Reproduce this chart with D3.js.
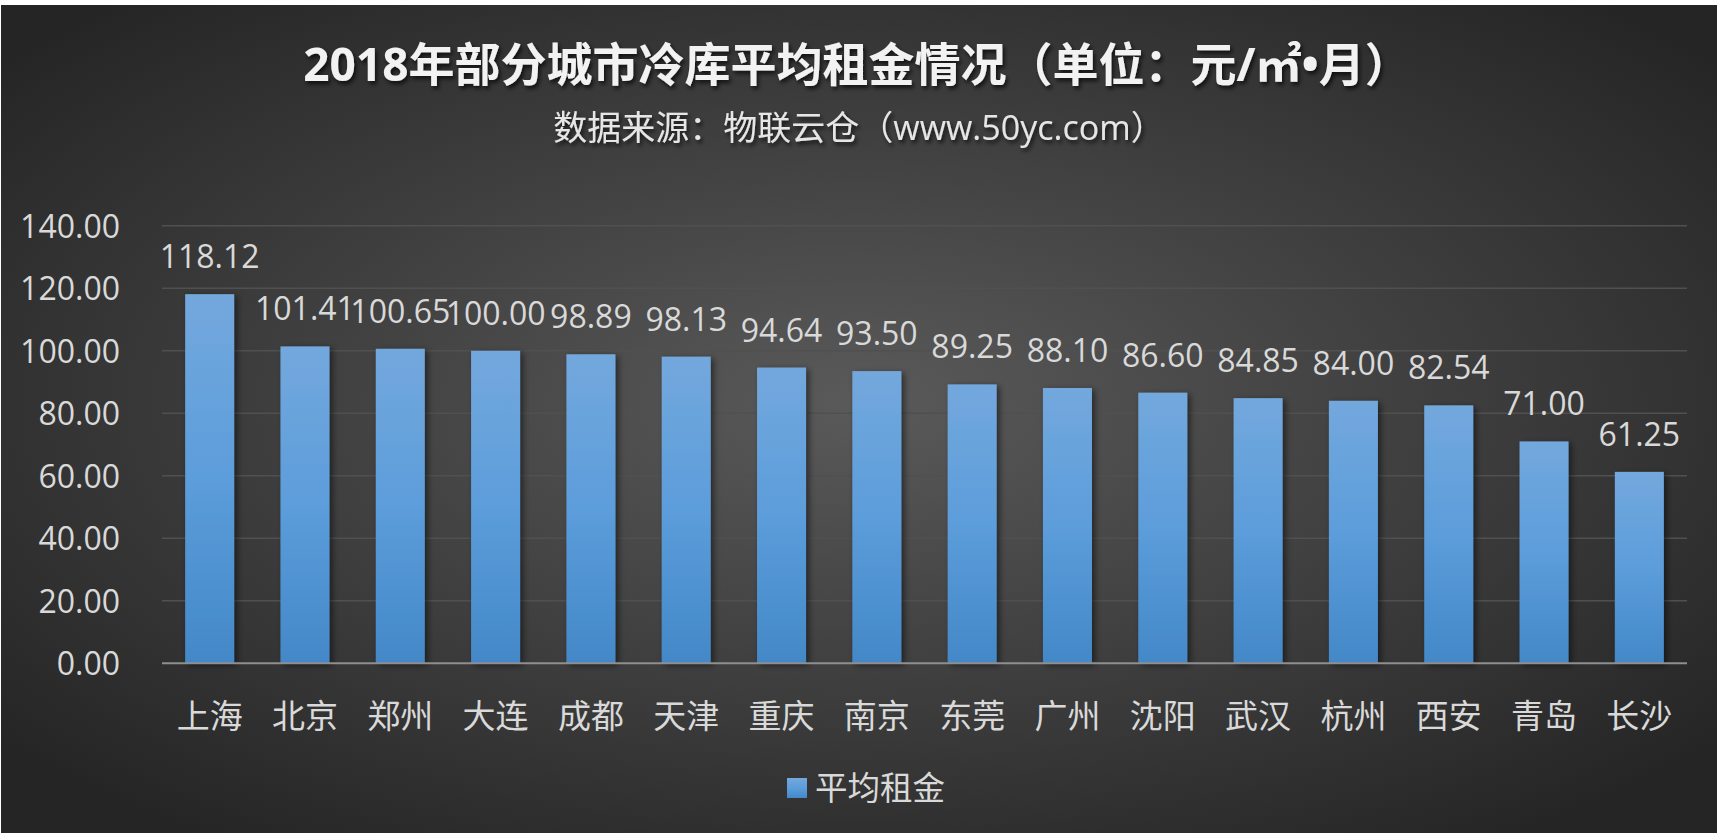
<!DOCTYPE html>
<html><head><meta charset="utf-8">
<script src="https://cdn.jsdelivr.net/npm/d3@7"></script>
<style>
html,body{margin:0;padding:0;background:#fff;overflow:hidden;}
svg{display:block;}
text{font-family:"Open Sans","Noto Sans CJK SC",sans-serif;}
</style></head>
<body>
<script>
const categories = ["上海","北京","郑州","大连","成都","天津","重庆","南京","东莞","广州","沈阳","武汉","杭州","西安","青岛","长沙"];
const values = [118.12,101.41,100.65,100.00,98.89,98.13,94.64,93.50,89.25,88.10,86.60,84.85,84.00,82.54,71.00,61.25];
const yTicks = [0,20,40,60,80,100,120,140];
const seriesName = "平均租金";
const titleText = "2018年部分城市冷库平均租金情况（单位：元/㎡•月）";
const subtitleText = "数据来源：物联云仓（www.50yc.com）";

const W = 1718, H = 833;
const svg = d3.select("body").append("svg").attr("width", W).attr("height", H);
const defs = svg.append("defs");

const bg = defs.append("radialGradient").attr("id","bg").attr("cx","50%").attr("cy","48%").attr("r","65%");
bg.append("stop").attr("offset","0%").attr("stop-color","#5a5a5a");
bg.append("stop").attr("offset","100%").attr("stop-color","#252525");

const bar = defs.append("linearGradient").attr("id","bar").attr("x1","0").attr("y1","0").attr("x2","0").attr("y2","1");
bar.append("stop").attr("offset","0%").attr("stop-color","#73a8dd");
bar.append("stop").attr("offset","50%").attr("stop-color","#5c9ddb");
bar.append("stop").attr("offset","100%").attr("stop-color","#4388c8");

const sh = defs.append("filter").attr("id","sh").attr("x","-20%").attr("y","-20%").attr("width","160%").attr("height","140%");
sh.append("feDropShadow").attr("dx",3).attr("dy",2).attr("stdDeviation",3).attr("flood-color","#000").attr("flood-opacity",0.5);
const tsh = defs.append("filter").attr("id","tsh").attr("x","-5%").attr("y","-20%").attr("width","110%").attr("height","160%");
tsh.append("feDropShadow").attr("dx",2).attr("dy",3).attr("stdDeviation",2).attr("flood-color","#000").attr("flood-opacity",0.7);

svg.append("rect").attr("x",1).attr("y",5).attr("width",W-2).attr("height",H-5).attr("fill","url(#bg)");

const x = d3.scaleBand().domain(categories).range([162,1687]).paddingInner(0.486).paddingOuter(0.243);
const y = d3.scaleLinear().domain([0,140]).range([663.3,225.8]);

// gridlines
svg.append("g").selectAll("line").data(yTicks.filter(d=>d>0)).join("line")
  .attr("x1",162).attr("x2",1687).attr("y1",d=>y(d)).attr("y2",d=>y(d))
  .attr("stroke","#505050").attr("stroke-width",1.5);

// y axis
const yAxis = svg.append("g").attr("transform","translate(120,0)")
  .call(d3.axisLeft(y).tickValues(yTicks).tickFormat(d3.format(".2f")).tickSize(0).tickPadding(0));
yAxis.select(".domain").remove();
yAxis.selectAll("text").attr("fill","#d9d9d9").style("font-size","32px").attr("dy","0.35em");

// bars
svg.append("g").selectAll("rect").data(values).join("rect")
  .attr("x",(d,i)=>x(categories[i])).attr("width",x.bandwidth())
  .attr("y",d=>y(d)).attr("height",d=>y(0)-y(d))
  .attr("fill","url(#bar)").attr("filter","url(#sh)");

// baseline
svg.append("line").attr("x1",162).attr("x2",1687).attr("y1",y(0)).attr("y2",y(0))
  .attr("stroke","#8f8f8f").attr("stroke-width",2);

// data labels
svg.append("g").selectAll("text").data(values).join("text")
  .attr("x",(d,i)=>x(categories[i])+x.bandwidth()/2).attr("y",d=>y(d)-26)
  .attr("text-anchor","middle").attr("fill","#d9d9d9").style("font-size","32px")
  .text(d=>d3.format(".2f")(d));

// x axis
const xAxis = svg.append("g").attr("transform",`translate(0,${y(0)})`)
  .call(d3.axisBottom(x).tickSize(0).tickPadding(0));
xAxis.select(".domain").remove();
xAxis.selectAll("text").attr("fill","#d9d9d9").style("font-size","33px").attr("y",53).attr("dy","0.35em");

// title
svg.append("text").attr("x",857).attr("y",81).attr("text-anchor","middle")
  .attr("fill","#f2f2f2").style("font-size","46px").style("font-weight","bold")
  .attr("filter","url(#tsh)").text(titleText);
svg.append("text").attr("x",859).attr("y",140).attr("text-anchor","middle")
  .attr("fill","#e6e6e6").style("font-size","34px")
  .attr("filter","url(#tsh)").text(subtitleText);

// legend
const lg = svg.append("g");
lg.append("rect").attr("x",787).attr("y",778).attr("width",20).attr("height",20).attr("fill","url(#bar)");
lg.append("text").attr("x",815).attr("y",789).attr("dy","0.35em").attr("fill","#d9d9d9")
  .style("font-size","32.5px").text(seriesName);
</script>
</body></html>
